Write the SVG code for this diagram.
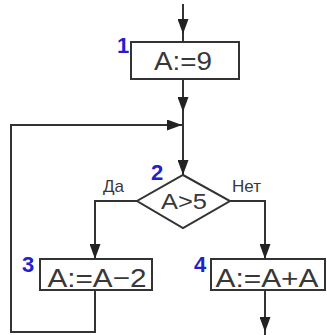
<svg xmlns="http://www.w3.org/2000/svg" width="327" height="335" viewBox="0 0 327 335">
<style>
.box{fill:#fff;stroke:#333;stroke-width:2}
.ln{fill:none;stroke:#333;stroke-width:2}
.t{font-family:"Liberation Sans",Arial,sans-serif;fill:#383838;text-anchor:middle}
.n{font-family:"Liberation Sans",Arial,sans-serif;font-weight:bold;fill:#2020d0;font-size:22px}
.lb{font-family:"Liberation Sans",Arial,sans-serif;fill:#383838;font-size:17px}
</style>
<defs>
<marker id="ah" viewBox="0 0 15 11" refX="15" refY="5.5" markerWidth="15" markerHeight="11" markerUnits="userSpaceOnUse" orient="auto">
<path d="M0,0 L15,5.5 L0,11 z" fill="#222"/>
</marker>
</defs>
<rect width="327" height="335" fill="#fff"/>
<g id="connectors">
<path class="ln" d="M183,4 V34" marker-end="url(#ah)"/>
<path class="ln" d="M183,33 V42"/>
<path class="ln" d="M183,79 V112" marker-end="url(#ah)"/>
<path class="ln" d="M183,111 V125"/>
<path class="ln" d="M183,125 V175" marker-end="url(#ah)"/>
<path class="ln" d="M95,290 V332 H11 V125 H182" marker-end="url(#ah)"/>
<path class="ln" d="M137,201 H95 V259" marker-end="url(#ah)"/>
<path class="ln" d="M230,201 H265 V259" marker-end="url(#ah)"/>
<path class="ln" d="M265,290 V332" marker-end="url(#ah)"/>
<path class="ln" d="M265,331 V335"/>
</g>
<g id="n1">
<rect class="box" x="131" y="42" width="108" height="37"/>
<text class="t" x="183" y="70" font-size="25" textLength="58" lengthAdjust="spacingAndGlyphs">A:=9</text>
<text class="n" x="117" y="53">1</text>
</g>
<g id="n2">
<polygon class="box" points="183,175 230,201 183,228 137,201"/>
<text class="t" x="184" y="209" font-size="22" textLength="46" lengthAdjust="spacingAndGlyphs">A&gt;5</text>
<text class="n" x="151" y="180">2</text>
<text class="lb" x="103" y="192">Да</text>
<text class="lb" x="232" y="192">Нет</text>
</g>
<g id="n3">
<rect class="box" x="40" y="259" width="112" height="31"/>
<text class="t" x="97" y="287" font-size="26" textLength="99" lengthAdjust="spacingAndGlyphs">A:=A−2</text>
<text class="n" x="22" y="272">3</text>
</g>
<g id="n4">
<rect class="box" x="211" y="259" width="114" height="31"/>
<text class="t" x="267" y="287" font-size="26" textLength="103" lengthAdjust="spacingAndGlyphs">A:=A+A</text>
<text class="n" x="194" y="272">4</text>
</g>
</svg>
